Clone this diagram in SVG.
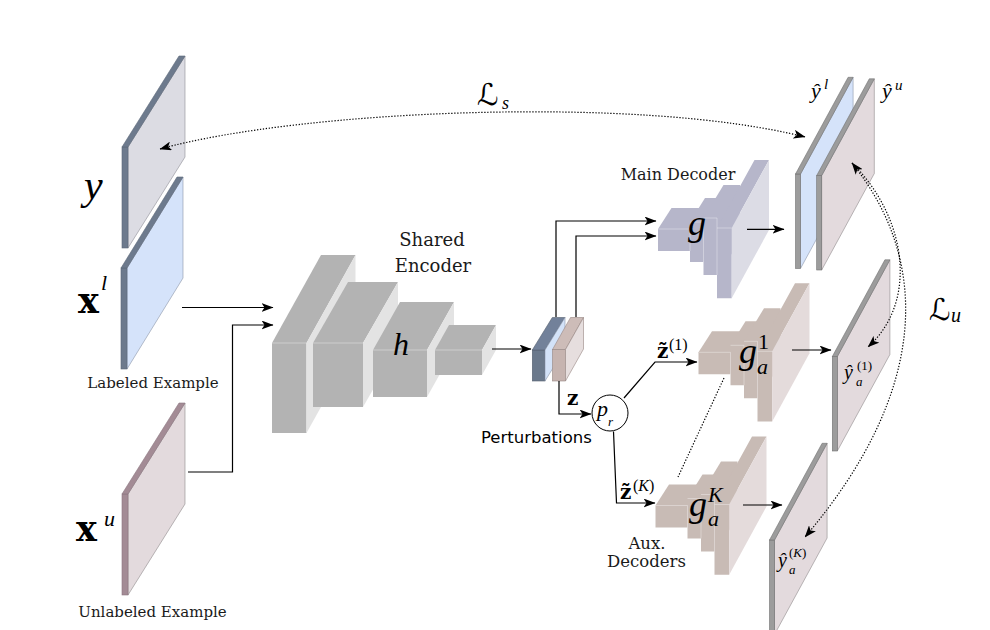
<svg xmlns="http://www.w3.org/2000/svg" width="990" height="630" viewBox="0 0 990 630">
<defs>
<style>
.serif{font-family:"DejaVu Serif",serif;fill:#1a1a1a}
.mi{font-family:"Liberation Serif","DejaVu Serif",serif;font-style:italic;fill:#000}
.mr{font-family:"Liberation Serif","DejaVu Serif",serif;fill:#000}
.mb{font-family:"DejaVu Serif",serif;font-weight:bold;fill:#000}
.sans{font-family:"DejaVu Sans",sans-serif;fill:#000}
.scr{font-family:"DejaVu Sans","DejaVu Serif",sans-serif;fill:#000}
.enc{fill:#b3b3b3}
.encs{fill:#e3e3e3}
.edge{stroke:#ffffff;stroke-opacity:.35;stroke-width:1;fill:none}
.slate{fill:#6d7a8d;stroke:#5c6878;stroke-width:.6}
.gstrip{fill:#9c9c9c;stroke:#727272;stroke-width:.6}
.mstrip{fill:#a38b95;stroke:#8c7580;stroke-width:.6}
.fgray{fill:#dcdce3;stroke:#8d8d95;stroke-width:.6}
.fblue{fill:#d5e3fa;stroke:#8c96a8;stroke-width:.6}
.fpink{fill:#e3dadd;stroke:#8f8a8c;stroke-width:.6}
.ln{fill:none;stroke:#000;stroke-width:1.2}
.dot{fill:none;stroke:#000;stroke-width:1.2;stroke-dasharray:1.3 1.7}
</style>
<marker id="ah" viewBox="0 0 12 9" refX="11.5" refY="4.5" markerWidth="12" markerHeight="9" markerUnits="userSpaceOnUse" orient="auto-start-reverse">
<path d="M0,0 L12,4.5 L0,9 L3,4.5 z" fill="#000"/>
</marker>
<g id="dec">
<polygon points="658,251 658,229 671.5,208 703.5,208 703.5,230 690,251"/>
<polygon points="690,262 690,222 705,198 718.5,198 718.5,238 703.5,262"/>
<polygon points="703.5,275 703.5,218 723.5,185 740,185 740,242 717,275"/>
<polygon points="717,298.3 717,228 754.5,160 769,160 731.7,228 731.7,298.3"/>
<polygon points="731.7,228 769,160 769,230 731.7,298.3" style="fill:currentColor"/>
<path class="edge" d="M658,229H690V251M690,222H703.5V262M703.5,218H717V275M717,228H731.7"/>
</g>
<g id="rplane">
<polygon points="5,0 57.6,-96.7 57.6,-2 5,94.5"/>
<rect class="gstrip" x="0" y="0" width="5" height="94.5"/>
<polygon class="gstrip" points="0,0 52.6,-96.7 57.6,-96.7 5,0"/>
</g>
</defs>

<!-- input planes -->
<g id="node-y" transform="translate(122,147)">
<polygon class="fgray" points="6,0 63,-91 63,10 6,101"/>
<rect class="slate" x="0" y="0" width="6" height="101"/>
<polygon class="slate" points="0,0 57,-91 63,-91 6,0"/>
</g>
<text class="mi" x="84" y="199" font-size="42">y</text>

<g id="node-xl">
<g transform="translate(121,268)">
<polygon class="fblue" points="6,0 62,-91 62,10 6,101"/>
<rect class="slate" x="0" y="0" width="6" height="101"/>
<polygon class="slate" points="0,0 56,-91 62,-91 6,0"/>
</g>
<text class="mb" x="78" y="313" font-size="35">x</text>
<text class="mi" x="101" y="290" font-size="22">l</text>
<text class="serif" x="153" y="388" font-size="15" text-anchor="middle">Labeled Example</text>
</g>

<g id="node-xu">
<g transform="translate(122,494)">
<polygon class="fpink" points="6,0 63,-91 63,10 6,101"/>
<rect class="mstrip" x="0" y="0" width="6" height="101"/>
<polygon class="mstrip" points="0,0 57,-91 63,-91 6,0"/>
</g>
<text class="mb" x="76" y="541" font-size="35">x</text>
<text class="mi" x="104" y="526" font-size="22">u</text>
<text class="serif" x="152.5" y="617" font-size="15" text-anchor="middle">Unlabeled Example</text>
</g>

<!-- shared encoder -->
<g id="node-encoder">
<rect class="enc" x="272" y="343" width="34.5" height="90"/>
<polygon class="enc" points="272,343 321,255 355.5,255 306.5,343"/>
<polygon class="encs" points="306.5,343 355.5,255 355.5,345 306.5,433"/>
<rect class="enc" x="313" y="343" width="50" height="64"/>
<polygon class="enc" points="313,343 348,282 398,282 363,343"/>
<polygon class="encs" points="363,343 398,282 398,346 363,407"/>
<rect class="enc" x="373" y="350" width="54" height="47"/>
<polygon class="enc" points="373,350 400,302 454,302 427,350"/>
<polygon class="encs" points="427,350 454,302 454,349 427,397"/>
<rect class="enc" x="435" y="350" width="47" height="25"/>
<polygon class="enc" points="435,350 449,325 496,325 482,350"/>
<polygon class="encs" points="482,350 496,325 496,350 482,375"/>
<path class="edge" d="M272,343H306.5M313,343H363M373,350H427M435,350H482"/>
<text class="serif" x="432" y="246" font-size="18" text-anchor="middle">Shared</text>
<text class="serif" x="433" y="272" font-size="18" text-anchor="middle">Encoder</text>
<text class="mi" x="393" y="355" font-size="32">h</text>
</g>

<!-- latent representation -->
<g id="node-latent">
<rect x="532.3" y="350" width="12.7" height="31" fill="#6b798c" stroke="#56606e" stroke-width=".6"/>
<polygon points="532.3,350 552.3,317.5 565,317.5 545,350" fill="#72819a" stroke="#56606e" stroke-width=".6"/>
<polygon points="545,350 565,317.5 565,348.5 545,381" fill="#d3e2f8" stroke="#8c96a8" stroke-width=".6"/>
<rect x="552.5" y="349.5" width="13" height="31.5" fill="#c6b4b0" stroke="#978783" stroke-width=".6"/>
<polygon points="552.5,349.5 570.5,317.5 583.5,317.5 565.5,349.5" fill="#cdbcb8" stroke="#978783" stroke-width=".6"/>
<polygon points="565.5,349.5 583.5,317.5 583.5,349 565.5,381" fill="#e6dede" stroke="#978783" stroke-width=".6"/>
</g>

<!-- perturbation -->
<g id="node-perturb">
<circle cx="610" cy="413" r="18" fill="#fff" stroke="#000" stroke-width="1"/>
<text class="mi" x="597" y="416" font-size="22">p</text>
<text class="mi" x="608" y="426" font-size="13">r</text>
<text class="sans" x="481" y="443" font-size="16.5">Perturbations</text>
</g>

<!-- main decoder -->
<g id="node-main-decoder">
<use href="#dec" fill="#b6b6ca" color="#dcdce5"/>
<text class="serif" x="678" y="180" font-size="16" text-anchor="middle">Main Decoder</text>
<text class="mi" x="688" y="235" font-size="36">g</text>
</g>

<!-- aux decoders -->
<g id="node-aux-decoder-1">
<use href="#dec" transform="translate(40.5,123.3)" fill="#c8bbb5" color="#e4dbdb"/>
<text class="mi" x="739" y="363" font-size="36">g</text>
<text class="mi" x="757" y="374" font-size="22">a</text>
<text class="mr" x="758" y="349" font-size="22">1</text>
</g>
<g id="node-aux-decoder-k">
<use href="#dec" transform="translate(-2.5,276.5)" fill="#c8bbb5" color="#e4dbdb"/>
<text class="mi" x="689" y="516" font-size="36">g</text>
<text class="mi" x="708" y="526" font-size="22">a</text>
<text class="mi" x="708" y="502" font-size="22">K</text>
<text class="serif" x="647" y="549" font-size="16.5" text-anchor="middle">Aux.</text>
<text class="serif" x="646.5" y="567" font-size="16.5" text-anchor="middle">Decoders</text>
</g>

<!-- output planes -->
<g id="node-yl">
<use href="#rplane" transform="translate(795.5,174)" fill="#d5e3fa" stroke="#8c96a8" stroke-width=".6"/>
<text class="mi" x="811" y="98" font-size="22">ŷ</text>
<text class="mi" x="824" y="89" font-size="15">l</text>
</g>
<g id="node-yu">
<use href="#rplane" transform="translate(816.7,175.5)" fill="#e3dadd" stroke="#8f8a8c" stroke-width=".6"/>
<text class="mi" x="882" y="98" font-size="22">ŷ</text>
<text class="mi" x="895" y="90" font-size="15">u</text>
</g>
<g id="node-ya1">
<use href="#rplane" transform="translate(832.3,356.5)" fill="#e3dadd" stroke="#8f8a8c" stroke-width=".6"/>
<text class="mi" x="844" y="379" font-size="20">ŷ</text>
<text class="mi" x="856" y="386" font-size="13">a</text>
<text class="mr" x="857" y="370" font-size="13">(1)</text>
</g>
<g id="node-yak">
<use href="#rplane" transform="translate(769.5,540)" fill="#e3dadd" stroke="#8f8a8c" stroke-width=".6"/>
<text class="mi" x="778" y="567" font-size="20">ŷ</text>
<text class="mi" x="789" y="574" font-size="13">a</text>
<text class="mr" x="789" y="557" font-size="13">(<tspan font-style="italic">K</tspan>)</text>
</g>

<!-- connectors -->
<g id="connectors">
<path class="ln" d="M182,307.5H273" marker-end="url(#ah)"/>
<path class="ln" d="M188,472H232.5V325H273" marker-end="url(#ah)"/>
<path class="ln" d="M492,349H531" marker-end="url(#ah)"/>
<path class="ln" d="M556,317V221H656" marker-end="url(#ah)"/>
<path class="ln" d="M576,317V236H656" marker-end="url(#ah)"/>
<path class="ln" d="M559,381V414H591" marker-end="url(#ah)"/>
<path class="ln" d="M624,398L655,362H697" marker-end="url(#ah)"/>
<path class="ln" d="M613.5,431.5L616.5,503H655" marker-end="url(#ah)"/>
<path class="ln" d="M747,229.3H784" marker-end="url(#ah)"/>
<path class="ln" d="M792,350H831" marker-end="url(#ah)"/>
<path class="ln" d="M743,505H782" marker-end="url(#ah)"/>
<path class="dot" d="M160,149C300,110 640,95 805,137" marker-start="url(#ah)" marker-end="url(#ah)"/>
<path class="dot" d="M852,163C930,260 930,390 805,537" marker-start="url(#ah)" marker-end="url(#ah)"/>
<path class="dot" d="M852,163C905,215 920,300 868,347" marker-end="url(#ah)"/>
<path class="dot" d="M724,378L678,477" stroke-width="1"/>
<text class="mb" x="567" y="405" font-size="20">z</text>
<text class="mb" x="657" y="358" font-size="20">z&#x303;</text>
<text class="mr" x="669" y="350" font-size="16">(1)</text>
<text class="mb" x="620" y="499" font-size="20">z&#x303;</text>
<text class="mr" x="633" y="491" font-size="16">(<tspan font-style="italic">K</tspan>)</text>
<text class="scr" x="477" y="105" font-size="30">ℒ</text>
<text class="mi" x="502" y="109" font-size="18">s</text>
<text class="scr" x="929" y="320" font-size="30">ℒ</text>
<text class="mi" x="951" y="322" font-size="20">u</text>
</g>
</svg>
